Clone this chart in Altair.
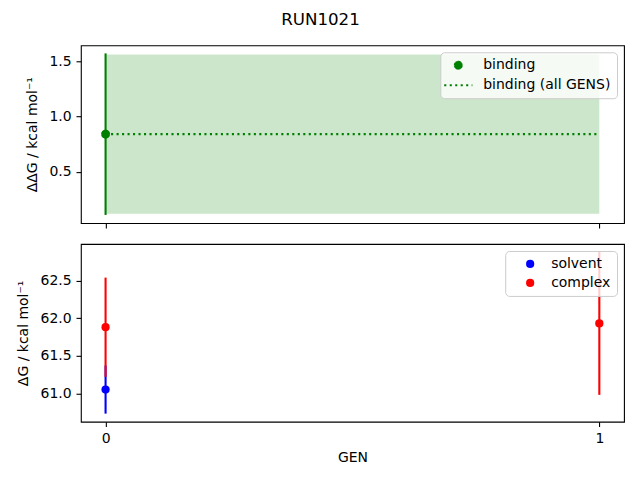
import math
import altair as alt
import pandas as pd

# ---- data ----
gens = [0, 1]
binding_gen = [0]
binding_val = [0.84]
binding_err = [0.73]
binding_all_val = [0.84]
binding_all_err = [0.72]
solvent_gen = [0]
solvent_val = [61.05]
solvent_err = [0.32]
complex_gen = [0, 1]
complex_val = [61.88, 61.93]
complex_err = [0.66, 0.95]

FONT = "DejaVu Sans"
FS = 14

bind_df = pd.DataFrame({
    "gen": binding_gen,
    "val": binding_val,
    "lo": [v - e for v, e in zip(binding_val, binding_err)],
    "hi": [v + e for v, e in zip(binding_val, binding_err)],
    "label": ["binding"] * len(binding_gen),
})
band_df = pd.DataFrame({
    "x0": [gens[0]],
    "x1": [gens[-1]],
    "val": binding_all_val,
    "lo": [binding_all_val[0] - binding_all_err[0]],
    "hi": [binding_all_val[0] + binding_all_err[0]],
})
solv_df = pd.DataFrame({
    "gen": solvent_gen,
    "val": solvent_val,
    "lo": [v - e for v, e in zip(solvent_val, solvent_err)],
    "hi": [v + e for v, e in zip(solvent_val, solvent_err)],
    "series": ["solvent"] * len(solvent_gen),
})
comp_df = pd.DataFrame({
    "gen": complex_gen,
    "val": complex_val,
    "lo": [v - e for v, e in zip(complex_val, complex_err)],
    "hi": [v + e for v, e in zip(complex_val, complex_err)],
    "series": ["complex"] * len(complex_gen),
})
pts_df = pd.concat([solv_df, comp_df], ignore_index=True)

# symbol shapes (unit coordinates): a disc whose outline is made of short
# sub-paths so a dashed legend stroke still looks solid, and a line segment
_n, _r = 24, 0.94
_pts = [(_r * math.cos(2 * math.pi * k / _n), _r * math.sin(2 * math.pi * k / _n))
        for k in range(_n)]
DISC = "M" + "L".join(f"{x:.3f},{y:.3f}" for x, y in _pts) + "Z"
for k in range(_n):
    (x1, y1), (x2, y2) = _pts[k], _pts[(k + 1) % _n]
    DISC += f"M{x1:.3f},{y1:.3f}L{x2:.3f},{y2:.3f}"
LINE = "M-3.8,0L3.8,0"

W, H = 544, 178
xscale = alt.Scale(domain=[-0.05, 1.05], nice=False, zero=False)
x_top_axis = alt.Axis(values=gens, labels=False, title=None)
x_bot_axis = alt.Axis(values=gens, format="d", title="GEN", titlePadding=5)

ytop_scale = alt.Scale(domain=[0.037, 1.643], nice=False, zero=False)
ytop_axis = alt.Axis(values=[0.5, 1.0, 1.5], format=".1f",
                     title="ΔΔG / kcal mol⁻¹", titlePadding=9)
ybot_scale = alt.Scale(domain=[60.6225, 62.9875], nice=False, zero=False)
ybot_axis = alt.Axis(values=[61.0, 61.5, 62.0, 62.5], format=".1f",
                     title="ΔG / kcal mol⁻¹", titlePadding=9)

legend_common = dict(
    title=None, orient="top-right", offset=7,
    fillColor="rgba(255,255,255,0.8)", strokeColor="#cccccc",
    cornerRadius=4, padding=6, rowPadding=5,
    labelFont=FONT, labelFontSize=FS, labelColor="black",
)

# ---- top panel ----
band = alt.Chart(band_df).mark_rect(color="green", opacity=0.2).encode(
    x=alt.X("x0:Q", scale=xscale, axis=x_top_axis),
    x2="x1:Q",
    y=alt.Y("lo:Q", scale=ytop_scale, axis=ytop_axis),
    y2="hi:Q",
)
all_line = alt.Chart(band_df).mark_rule(
    color="green", strokeWidth=2.1, strokeDash=[2.1, 3.4]
).encode(x="x0:Q", x2="x1:Q", y="val:Q")
bind_err = alt.Chart(bind_df).mark_rule(color="green", strokeWidth=2.1).encode(
    x="gen:Q", y="lo:Q", y2="hi:Q"
)
bind_pts = alt.Chart(bind_df).mark_point(
    filled=False, fill="green", stroke="green", fillOpacity=1,
    strokeWidth=2, opacity=1, size=55
).encode(
    x="gen:Q",
    y="val:Q",
    shape=alt.Shape(
        "label:N",
        scale=alt.Scale(domain=["binding", "binding (all GENS)"],
                        range=[DISC, LINE]),
        legend=alt.Legend(symbolDash=[2.1, 3.4], symbolStrokeWidth=2,
                          symbolSize=55, symbolOffset=5, labelOffset=18,
                          **legend_common),
    ),
)
top = alt.layer(band, all_line, bind_err, bind_pts).properties(width=W, height=H)

# ---- bottom panel ----
solv_err = alt.Chart(solv_df).mark_rule(color="blue", strokeWidth=2.1).encode(
    x=alt.X("gen:Q", scale=xscale, axis=x_bot_axis),
    y=alt.Y("lo:Q", scale=ybot_scale, axis=ybot_axis),
    y2="hi:Q",
)
comp_err = alt.Chart(comp_df).mark_rule(color="red", strokeWidth=2.1).encode(
    x="gen:Q", y="lo:Q", y2="hi:Q"
)
pts = alt.Chart(pts_df).mark_point(filled=True, opacity=1, size=68).encode(
    x="gen:Q",
    y="val:Q",
    color=alt.Color(
        "series:N",
        scale=alt.Scale(domain=["solvent", "complex"], range=["blue", "red"]),
        legend=alt.Legend(symbolType="circle", symbolSize=68, symbolOffset=12,
                          labelOffset=14, **legend_common),
    ),
)
bottom = alt.layer(solv_err, comp_err, pts).properties(width=W, height=H)

chart = alt.vconcat(top, bottom, spacing=14).resolve_scale(
    color="independent", shape="independent"
).properties(
    title=alt.Title("RUN1021", font=FONT, fontSize=16.7, fontWeight="normal",
                    color="black", anchor="middle", offset=16),
    padding={"left": 8, "top": 3, "right": 7, "bottom": 5},
).configure_axis(
    labelFont=FONT, labelFontSize=FS, labelColor="black",
    titleFont=FONT, titleFontSize=FS, titleFontWeight="normal", titleColor="black",
    tickColor="black", tickSize=4.9, tickWidth=1.1, labelPadding=4.9,
    grid=False, domain=False,
).configure_view(stroke="black", strokeWidth=1.1)

chart.save("out.html", embed_options={"renderer": "svg", "actions": False})
